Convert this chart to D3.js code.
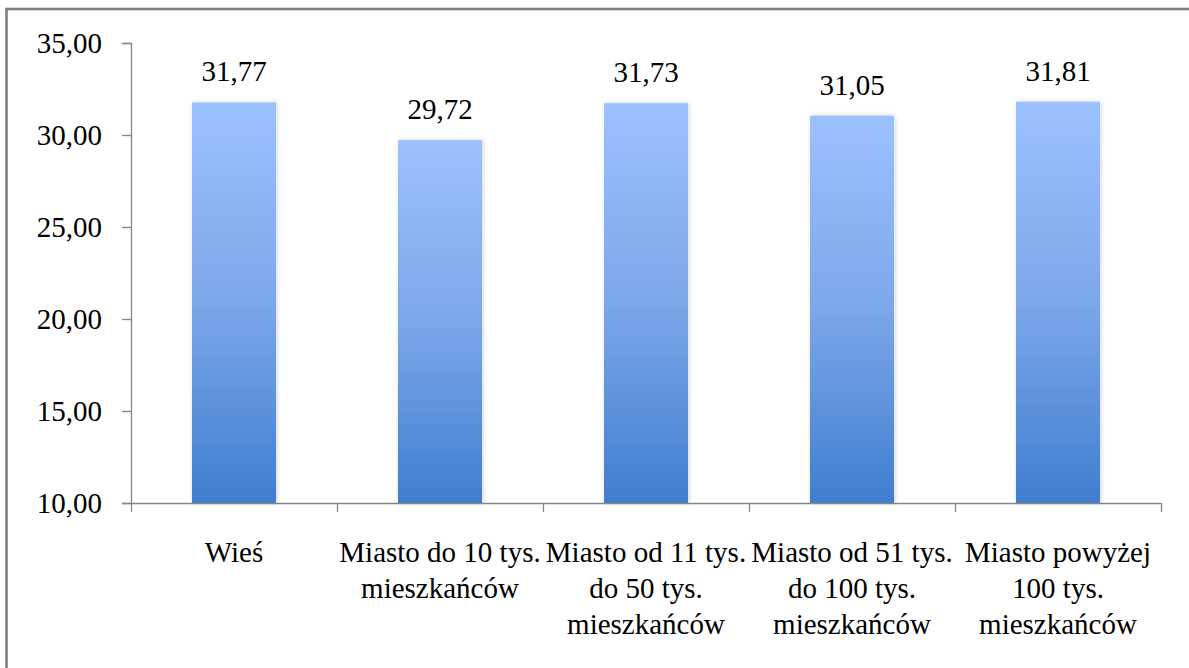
<!DOCTYPE html>
<html><head><meta charset="utf-8">
<script src="https://cdn.jsdelivr.net/npm/d3@7"></script>
<style>html,body{margin:0;padding:0;background:#fff;overflow:hidden}</style>
</head><body>
<svg id="c" width="1189" height="668"></svg>
<script>
const categories = [
  ["Wieś"],
  ["Miasto do 10 tys.", "mieszkańców"],
  ["Miasto od 11 tys.", "do 50 tys.", "mieszkańców"],
  ["Miasto od 51 tys.", "do 100 tys.", "mieszkańców"],
  ["Miasto powyżej", "100 tys.", "mieszkańców"]
];
const values = [31.77, 29.72, 31.73, 31.05, 31.81];
const yTicks = [10, 15, 20, 25, 30, 35];
const yDomain = [10, 35];

(function () {
const svg = d3.select("#c");
const font = "'Liberation Serif', 'Times New Roman', serif";
const fs = 29;
const fmt = v => d3.format(".2f")(v).replace(".", ",");

// frame
svg.append("rect").attr("x", 6.5).attr("y", 9).attr("width", 1300).attr("height", 800)
  .attr("fill", "none").attr("stroke", "#808080").attr("stroke-width", 2.6);

const pLeft = 131, pRight = 1161, pTop = 43, pBottom = 503;
const x = d3.scaleBand().domain(d3.range(categories.length)).range([pLeft, pRight]).paddingInner(0.592).paddingOuter(0.296);
const y = d3.scaleLinear().domain(yDomain).range([pBottom, pTop]);

const defs = svg.append("defs");
const g = defs.append("linearGradient").attr("id", "bg").attr("x1", 0).attr("y1", 0).attr("x2", 0).attr("y2", 1);
g.append("stop").attr("offset", 0).attr("stop-color", "#9CC1FF");
g.append("stop").attr("offset", 0.5).attr("stop-color", "#7CA7E9");
g.append("stop").attr("offset", 1).attr("stop-color", "#3F7ECE");
const f = defs.append("filter").attr("id", "sh").attr("x", "-20%").attr("y", "-10%").attr("width", "140%").attr("height", "120%");
f.append("feDropShadow").attr("dx", 1).attr("dy", 0).attr("stdDeviation", 2).attr("flood-color", "#000").attr("flood-opacity", 0.18);

// bars
svg.append("g").selectAll("rect").data(values).join("rect")
  .attr("x", (d, i) => x(i)).attr("width", x.bandwidth())
  .attr("y", d => y(d)).attr("height", d => y(yDomain[0]) - y(d))
  .attr("fill", "url(#bg)").attr("filter", "url(#sh)");

// value labels
svg.append("g").selectAll("text").data(values).join("text")
  .attr("x", (d, i) => x(i) + x.bandwidth() / 2).attr("y", d => y(d) - 21)
  .attr("text-anchor", "middle").attr("font-family", font).attr("font-size", fs).attr("fill", "#000")
  .text(d => fmt(d));

// y axis
const ya = svg.append("g").attr("transform", `translate(${pLeft},0)`)
  .call(d3.axisLeft(y).tickValues(yTicks).tickFormat(fmt).tickSize(9).tickPadding(20));
ya.select(".domain").attr("stroke", "#868686").attr("stroke-width", 1.3);
ya.selectAll(".tick line").attr("stroke", "#868686").attr("stroke-width", 1.3);
ya.selectAll(".tick text").attr("font-family", font).attr("font-size", fs).attr("fill", "#000").attr("dy", "0.33em");

// x axis
const xs = d3.scaleLinear().domain([0, categories.length]).range([pLeft, pRight]);
const xa = svg.append("g").attr("transform", `translate(0,${pBottom})`)
  .call(d3.axisBottom(xs).tickValues(d3.range(categories.length + 1)).tickFormat("").tickSize(9).tickSizeOuter(0));
xa.select(".domain").attr("stroke", "#868686").attr("stroke-width", 1.3);
xa.selectAll(".tick line").attr("stroke", "#868686").attr("stroke-width", 1.3);

// category labels
const cl = svg.append("g").selectAll("text").data(categories).join("text")
  .attr("x", (d, i) => x(i) + x.bandwidth() / 2).attr("y", 562)
  .attr("text-anchor", "middle").attr("font-family", font).attr("font-size", fs).attr("fill", "#000");
cl.selectAll("tspan").data(d => d).join("tspan")
  .attr("x", function () { return this.parentNode.getAttribute("x"); })
  .attr("dy", (d, i) => i === 0 ? 0 : 36).text(d => d);
})();
</script>
</body></html>
